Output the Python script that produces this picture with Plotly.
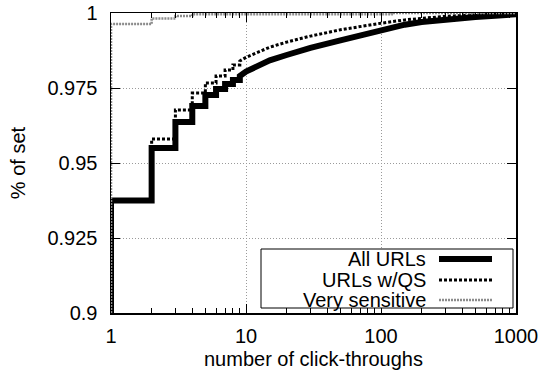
import plotly.graph_objects as go

# ---- data (CDF values; repeated x marks the step at each integer count) ----
x_all = [1, 1, 2, 2, 3, 3, 4, 4, 5, 5, 6, 6, 7, 7, 8, 8, 9, 9, 10, 12, 15, 20, 30, 50, 70, 100, 150, 200, 300, 500, 700, 1000]
y_all = [0, 0.9375, 0.9375, 0.955, 0.955, 0.9637, 0.9637, 0.969, 0.969, 0.9727, 0.9727, 0.9747, 0.9747, 0.9763,
         0.9763, 0.9777, 0.9777, 0.979, 0.9805, 0.9823, 0.9842, 0.9860, 0.9884, 0.9909, 0.9926, 0.9945,
         0.9961, 0.9970, 0.9979, 0.9987, 0.9991, 0.9996]

x_qs = [1, 1, 2, 2, 3, 3, 4, 4, 5, 5, 6, 6, 7, 7, 8, 8, 9, 9, 10, 12, 15, 20, 30, 50, 70, 100, 150, 200, 300, 500, 700, 1000]
y_qs = [0, 0.9375, 0.9375, 0.958, 0.958, 0.9677, 0.9677, 0.9733, 0.9733, 0.9767, 0.9767, 0.979, 0.979, 0.981,
        0.981, 0.9827, 0.9827, 0.984, 0.9852, 0.9868, 0.9886, 0.9903, 0.9923, 0.9944, 0.9955, 0.9966,
        0.9977, 0.9983, 0.9989, 0.9994, 0.9996, 0.9998]

x_vs = [1, 1, 2, 2, 3, 3, 4, 4, 120, 120, 1000]
y_vs = [0, 0.9963, 0.9963, 0.9982, 0.9982, 0.9990, 0.9990, 0.9996, 0.9996, 1.0, 1.0]

series_names = ["All URLs", "URLs w/QS", "Very sensitive"]
x_ticks = [1, 10, 100, 1000]
x_ticktext = ["1", "10", "100", "1000"]
y_ticks = [0.9, 0.925, 0.95, 0.975, 1.0]
y_ticktext = ["0.9", "0.925", "0.95", "0.975", "1"]
x_minor = [m * d for d in (1, 10, 100) for m in range(2, 10)]

FONT = "Liberation Sans, Arial, sans-serif"
styles = [
    dict(color="black", width=6, dash="solid"),
    dict(color="black", width=3, dash="3px,2px"),
    dict(color="#8c8c8c", width=2.5, dash="2px,1px"),
]

fig = go.Figure()
for xs, ys, name, st in zip([x_all, x_qs, x_vs], [y_all, y_qs, y_vs], series_names, styles):
    fig.add_trace(go.Scatter(x=xs, y=ys, mode="lines", name=name, line=dict(shape="linear", **st),
                             showlegend=False, hoverinfo="skip"))

L, R, T, B = 111, 26, 13, 57
W, H = 542, 370
pw, ph = W - L - R, H - T - B

axis_common = dict(showline=True, linecolor="black", linewidth=1.5, mirror="allticks",
                   ticks="inside", ticklen=9, tickcolor="black", tickwidth=1,
                   showgrid=True, gridcolor="#9a9a9a", gridwidth=1, griddash="1px,2px",
                   zeroline=False, tickfont=dict(family=FONT, size=20, color="black"))

fig.update_xaxes(type="log", range=[0, 3], tickvals=x_ticks, ticktext=x_ticktext,
                 minor=dict(ticks="inside", ticklen=5, tickcolor="black", tickvals=x_minor, showgrid=False),
                 title=dict(text="number of click-throughs", font=dict(family=FONT, size=20, color="black"),
                            standoff=6),
                 ticklabelstandoff=4, **axis_common)
fig.update_yaxes(range=[0.9, 1.0], tickvals=y_ticks, ticktext=y_ticktext,
                 title=dict(text="% of set", font=dict(family=FONT, size=20, color="black"), standoff=16),
                 ticklabelstandoff=8, **axis_common)

# ---- manual legend (text left of sample, like the original) ----
def px2paper(px, py):
    return (px - L) / pw, (H - B - py) / ph

bx0, by0 = px2paper(261, 308)
bx1, by1 = px2paper(513, 249)
fig.add_shape(type="rect", xref="paper", yref="paper", x0=bx0, y0=by0, x1=bx1, y1=by1,
              line=dict(color="black", width=1), fillcolor="white", layer="above")
rows_py = [259, 280, 300]
for name, st, py in zip(series_names, styles, rows_py):
    tx, ty = px2paper(428, py)
    fig.add_annotation(xref="paper", yref="paper", x=tx, y=ty, text=name, showarrow=False,
                       xanchor="right", yanchor="middle",
                       font=dict(family=FONT, size=20, color="black"))
    sx0, sy = px2paper(439, py)
    sx1, _ = px2paper(492, py)
    fig.add_shape(type="line", xref="paper", yref="paper", x0=sx0, x1=sx1, y0=sy, y1=sy,
                  line=dict(color=st["color"], width=st["width"], dash=st["dash"]), layer="above")

fig.update_layout(width=W, height=H, margin=dict(l=L, r=R, t=T, b=B, autoexpand=False),
                  plot_bgcolor="white", paper_bgcolor="white", showlegend=False, hovermode=False)

fig.write_html("out.html", config={"displayModeBar": False, "staticPlot": True},
               post_script="document.body.style.margin='0';document.body.style.overflow='hidden';")
